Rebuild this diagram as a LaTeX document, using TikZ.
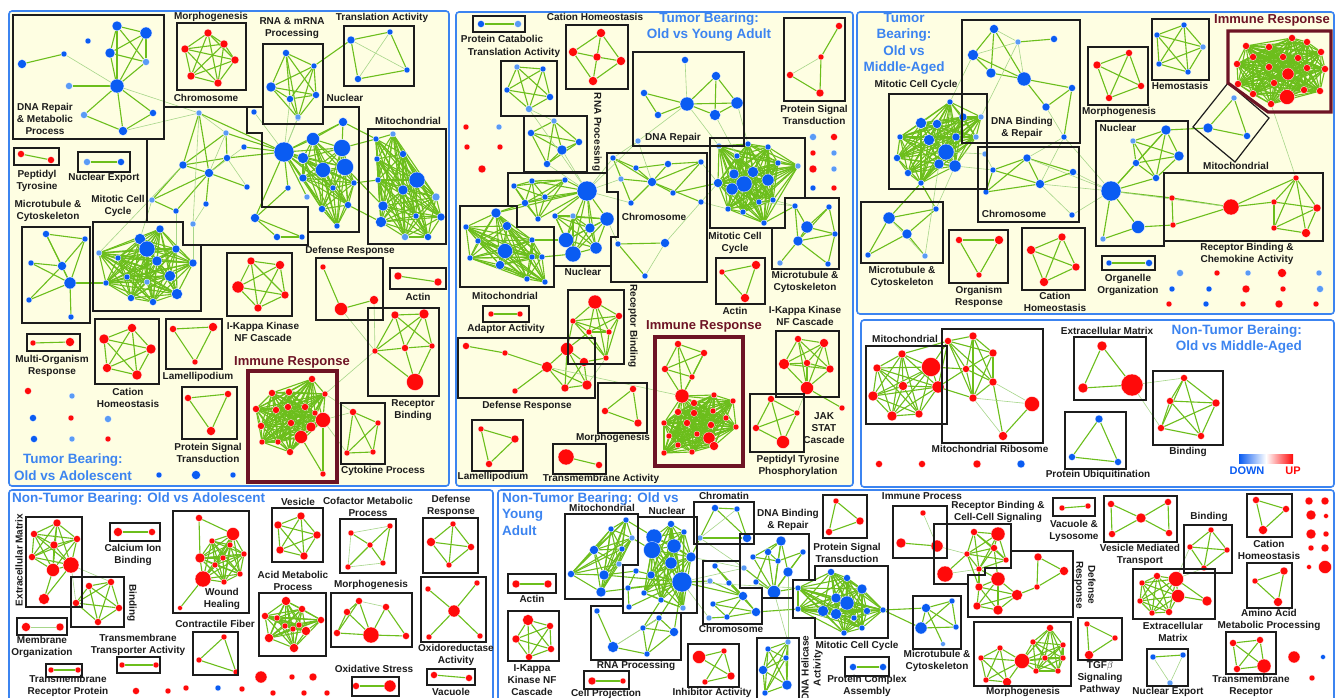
\documentclass[tikz,border=0pt]{standalone}
\usepackage{fontspec}
\setmainfont{Liberation Sans}
\pgfdeclarelayer{bg}\pgfdeclarelayer{edges}\pgfsetlayers{bg,edges,main}
\definecolor{R}{HTML}{FF0A0A}
\definecolor{B}{HTML}{0A5CF2}
\definecolor{L}{HTML}{5A9BF5}
\definecolor{G}{HTML}{6CBE1C}
\definecolor{GL}{HTML}{A7D68A}
\definecolor{CR}{HTML}{FEFEE2}
\definecolor{PB}{HTML}{3C84F0}
\definecolor{MR}{HTML}{6E1425}
\definecolor{TX}{HTML}{1C1C1C}
\tikzset{
 nd/.style={circle,inner sep=0pt,draw=white,line width=0.3pt},
 ed/.style={draw=G,line width=1.1pt},
 edl/.style={draw=GL,line width=0.6pt},
 bx/.style={draw=TX,line width=1.2pt},
 ibx/.style={draw=MR,line width=3.2pt},
 panel/.style={draw=PB,line width=1.6pt,rounded corners=3pt},
 lb/.style={font=\bfseries\fontsize{10}{12}\selectfont,align=center,text=TX,inner sep=0pt},
 ttl/.style={font=\bfseries\fontsize{13.5}{16.5}\selectfont,align=center,text=PB,inner sep=0pt},
 iml/.style={font=\bfseries\fontsize{13}{15}\selectfont,text=MR,inner sep=0pt}
}
\newcommand\nodes[2]{\foreach \px/\py/\ps/\pc [count=\k] in {#2}{\node[nd,fill=\pc,minimum size=\ps pt] (#1-\k) at (\px,\py) {};}}
\newcommand\cliq[2]{\begin{pgfonlayer}{edges}\foreach \ii in {#2}{\foreach \jj in {#2}{\ifnum\jj>\ii\relax\draw[ed] (#1-\ii)--(#1-\jj);\fi}}\end{pgfonlayer}}
\newcommand\links[2]{\begin{pgfonlayer}{edges}\foreach \aa/\bb in {#2}{\draw[ed] (#1-\aa)--(#1-\bb);}\end{pgfonlayer}}
\newcommand\lite[2]{\begin{pgfonlayer}{edges}\foreach \aa/\bb in {#2}{\draw[edl] (#1-\aa)--(#1-\bb);}\end{pgfonlayer}}
\newcommand\xl[1]{\begin{pgfonlayer}{edges}\foreach \aa/\bb in {#1}{\draw[ed] (\aa)--(\bb);}\end{pgfonlayer}}
\newcommand\tl[1]{\begin{pgfonlayer}{edges}\foreach \aa/\bb in {#1}{\draw[edl] (\aa)--(\bb);}\end{pgfonlayer}}
\begin{document}
\begin{tikzpicture}[x=1pt,y=-1pt]
\useasboundingbox (0,0) rectangle (1338,698);
\begin{pgfonlayer}{bg}
\fill[white] (0,0) rectangle (1338,698);
\draw[panel,fill=CR] (9,11) rectangle (449,486);
\draw[panel,fill=CR] (456,12) rectangle (853,486);
\draw[panel,fill=CR] (857,12) rectangle (1334,314);
\draw[panel,fill=white] (861,320) rectangle (1334,487);
\draw[panel,fill=white] (9,490) rectangle (493,706);
\draw[panel,fill=white] (498,490) rectangle (1334,706);
\end{pgfonlayer}
% ================= PANEL A =================
\nodes{ad}{117/26/10/B,146/33/12/B,110/53/10/B,146/62/7/L,88/41/6/B,64/54/6/B,22/64/9/B,117/86/14/B,69/86/7/L,84/115/7/L,153/113/7/B,123/131/9/B}
\links{ad}{1/2,1/3,1/4,2/3,2/4,3/8,1/8,2/8,4/8,3/4,6/7,9/8,10/8,11/8,12/8,10/12,12/11}
\lite{ad}{6/8}
\nodes{am}{208/33/8/R,224/44/8/R,185/49/8/R,235/60/8/R,191/76/8/R,218/83/8/R}\cliq{am}{1,...,6}
\nodes{ar}{286/53/7/B,314/66/6/B,271/87/10/B,290/99/7/B,316/95/7/B,298/118/6/L}\cliq{ar}{1,...,6}
\nodes{at}{351/40/8/B,390/32/6/B,407/70/6/B,358/79/7/B}\links{at}{1/2,2/3,3/4,4/1}\lite{at}{1/3,2/4}
\xl{ar-2/at-1}
\nodes{ap}{21/154/7/R,51/160/7/R}\links{ap}{1/2}
\nodes{ae}{87/162/7/L,121/162/7/B}\links{ae}{1/2}
\nodes{ac}{199/113/6/L,226/133/6/L,244/147/6/B,183/165/8/B,227/158/7/B,209/173/9/B,247/187/6/B,152/200/6/L,176/211/6/B,206/204/6/B,193/224/6/L,255/218/9/B,277/237/7/B,302/237/6/B}
\links{ac}{1/4,1/6,2/5,2/4,4/5,4/6,5/6,6/7,4/8,8/6,9/6,9/8,10/6,12/13,12/14,13/14}
\lite{ac}{1/2,2/6,3/6,10/11,5/7}
\nodes{an}{284/152/20/B,313/139/13/B,342/148/17/B,345/167/17/B,323/170/15/B,303/158/11/B,303/178/8/B,288/188/6/B,307/197/6/L,343/122/9/B,254/112/6/B,298/117/6/L,333/188/6/B,354/183/6/B,322/209/7/B,348/205/7/B,337/226/6/B}
\cliq{an}{1,2,3,4,5,6,7,13,14,15,16,17}\links{an}{1/10,1/8,1/9,10/3,2/10}\lite{an}{1/11,1/12}
\nodes{ao}{376/139/6/B,393/134/6/L,403/154/7/B,377/159/6/B,417/180/16/B,378/180/6/B,403/190/10/B,436/197/8/L,383/206/10/B,416/216/6/B,441/217/8/B,381/222/11/B,405/237/7/L,428/237/7/B}
\cliq{ao}{1,...,14}
\xl{an-3/ao-1,an-10/ao-1,an-4/ao-9,an-16/ao-12,an-14/ao-6}
\nodes{ay}{160/229/8/B,140/239/11/B,147/249/16/B,176/249/8/B,157/261/10/B,99/253/6/L,118/258/6/B,193/263/8/B,127/277/6/B,170/276/11/B,147/282/6/L,106/283/6/B,177/294/11/B,131/298/7/B,153/302/7/B}
\cliq{ay}{1,...,15}
\nodes{au}{46/234/7/B,85/239/6/B,31/263/6/B,62/266/9/B,70/283/12/B,29/300/6/B,71/317/6/B}
\links{au}{1/2,1/4,2/4,3/4,3/5,4/5,2/5,5/6,5/7,1/5,4/6}
\xl{au-5/ay-12,ac-1/an-1,ac-2/an-1,ac-3/an-1,ac-5/an-1,ac-12/an-1,ac-12/an-8}
\tl{ad-8/ac-1,ad-12/ac-1,ac-1/ac-11,ac-8/ay-2,ac-9/ay-4,ac-11/ay-8,ar-4/an-1,ar-6/an-1,ac-4/ay-6}
\nodes{ai}{312/379/7/R,272/393/7/R,289/392/7/R,325/394/6/R,256/409/7/R,276/410/7/R,288/407/7/R,305/407/7/R,315/413/6/R,323/420/15/R,261/426/7/R,291/423/7/R,311/427/10/R,301/437/13/R,262/442/6/R,278/442/6/R,290/452/7/R,323/474/6/R}
\cliq{ai}{1,...,17}\links{ai}{18/10,18/14}
\nodes{ak}{353/412/7/R,378/423/6/R,347/453/6/R,373/452/6/R}\cliq{ak}{1,...,4}
\tl{ai-10/ak-1,ai-4/ak-1,ai-10/ak-3}
\nodes{af}{323/267/6/R,341/309/13/R,374/300/9/R}\links{af}{1/2,2/3}
\nodes{aa}{398/276/8/R,438/282/8/R}\links{aa}{1/2}
\nodes{ag}{251/261/8/R,280/265/9/R,238/287/12/R,285/295/8/R,258/308/8/R}\cliq{ag}{1,...,5}
\nodes{ab}{395/315/8/R,424/314/10/R,375/351/6/R,405/348/7/R,432/346/6/R,415/382/17/R}
\links{ab}{1/2,1/3,1/4,2/3,2/4,2/5,3/4,4/5,3/6,5/6,4/6,1/5}
\tl{af-2/ab-3,af-3/ab-3,ab-3/ai-4}
\nodes{aw}{33/343/6/R,70/342/9/R}\links{aw}{1/2}
\nodes{ah}{132/328/9/R,104/339/10/R,151/349/10/R,107/368/9/R,137/375/10/R}\cliq{ah}{1,...,5}
\nodes{al}{173/329/7/R,213/327/9/R,195/362/6/R}\links{al}{1/2,2/3,3/1}
\nodes{as}{188/398/7/R,228/394/7/R,211/431/9/R}\links{as}{1/2,2/3,3/1}
\nodes{ax}{28/391/7/R,72/396/6/L,33/418/7/B,71/418/6/R,108/419/7/L,34/439/7/B,72/439/6/L,108/439/6/R,159/475/6/B,196/475/9/B,233/475/6/B}
% boxes A
\draw[bx] (13,15) rectangle (164,139);
\draw[bx] (177,23) rectangle (246,90);
\draw[bx] (263,44) rectangle (323,124);
\draw[bx] (344,26) rectangle (414,86);
\draw[bx] (14,148) rectangle (59,165);
\draw[bx] (78,152) rectangle (130,172);
\draw[bx] (164,107)--(247,107)--(247,133)--(262,133)--(262,207)--(308,207)--(308,245)--(183,245)--(183,222)--(147,222)--(147,139);
\draw[bx] (323,107)--(359,107)--(359,232)--(308,232);
\draw[bx] (247,107)--(263,107);
\draw[bx] (368,129) rectangle (446,244);
\draw[bx] (93,222)--(183,222)--(183,245)--(201,245)--(201,311)--(93,311)--cycle;
\draw[bx] (22,227) rectangle (90,323);
\draw[bx] (316,258) rectangle (383,320);
\draw[bx] (390,268) rectangle (446,289);
\draw[bx] (227,253) rectangle (292,316);
\draw[bx] (27,334) rectangle (80,351);
\draw[bx] (95,319) rectangle (159,384);
\draw[bx] (166,319) rectangle (222,369);
\draw[bx] (182,387) rectangle (237,439);
\draw[bx] (341,403) rectangle (385,464);
\draw[bx] (368,308) rectangle (439,396);
\draw[ibx] (248,371) rectangle (337,482);
% labels A
\node[lb] (ta1) at (211,17) {Morphogenesis};
\node[lb] (ta2) at (292,28.5) {RNA \& mRNA\\Processing};
\node[lb] (ta3) at (382,18) {Translation Activity};
\node[lb] (ta4) at (45,119) {DNA Repair\\\& Metabolic\\Process};
\node[lb] (ta5) at (206,98) {Chromosome};
\node[lb] (ta6) at (345,98) {Nuclear};
\node[lb] (ta7) at (408,121) {Mitochondrial};
\node[lb] (ta8) at (37,181) {Peptidyl\\Tyrosine};
\node[lb] (ta9) at (104,178) {Nuclear Export};
\node[lb] (ta10) at (48,211) {Microtubule \&\\Cytoskeleton};
\node[lb] (ta11) at (118,206) {Mitotic Cell\\Cycle};
\node[lb] (ta12) at (350,251) {Defense Response};
\node[lb] (ta13) at (418,297) {Actin};
\node[lb] (ta14) at (263,332) {I-Kappa Kinase\\NF Cascade};
\node[lb] (ta15) at (52,366) {Multi-Organism\\Response};
\node[lb] (ta16) at (128,398) {Cation\\Homeostasis};
\node[lb] (ta17) at (198,377) {Lamellipodium};
\node[lb] (ta18) at (208,453) {Protein Signal\\Transduction};
\node[iml] (ta19) at (292,362) {Immune Response};
\node[lb] (ta20) at (383,471) {Cytokine Process};
\node[lb] (ta21) at (413,410) {Receptor\\Binding};
\node[ttl] (ta22) at (73,467) {Tumor Bearing:\\Old vs Adolescent};
% ================= PANEL B =================
\nodes{bp}{481/24/7/B,518/24/7/L}\links{bp}{1/2}
\nodes{bh}{601/33/9/R,573/52/9/R,597/57/8/R,621/61/9/R,593/81/9/R}\links{bh}{1/2,1/3,1/4,2/3,3/4,2/5,3/5,4/5}
\nodes{bq}{517/67/6/L,543/69/6/B,507/90/6/B,550/97/7/B,529/109/7/L}\cliq{bq}{1,...,5}
\nodes{br}{554/121/6/L,531/133/7/B,579/142/7/B,562/150/10/B,547/164/7/B}\cliq{br}{1,...,5}
\tl{bq-5/br-1}
\nodes{bd}{685/60/7/B,644/93/7/B,716/76/9/B,687/104/14/B,737/103/12/B,715/115/11/B,658/115/7/B,638/141/6/L}
\links{bd}{2/4,2/7,4/7,3/4,3/5,3/6,4/5,4/6,5/6}\lite{bd}{1/4,4/8}
\nodes{bs}{839/26/7/R,821/57/6/R,790/75/7/R,820/93/8/R}\links{bs}{1/2,3/4,2/4}\lite{bs}{2/3}
\nodes{bx}{466/127/6/R,499/127/6/L,467/147/6/R,500/147/6/R,482/169/8/R,813/137/7/L,834/137/7/R,813/153/6/R,834/153/6/L,813/169/8/R,834/169/6/L,813/188/6/B,834/188/6/R}
\nodes{bn}{587/191/20/B,607/219/14/B,590/228/10/B,596/248/12/B,566/240/15/B,573/254/16/B,555/216/6/B,573/216/6/L,545/197/6/B,565/180/6/B,532/181/6/B,514/186/6/B,525/203/7/B,538/219/6/B}
\cliq{bn}{2,...,8}\cliq{bn}{9,...,14}\links{bn}{1/2,1/3,1/4,1/5,1/6,1/7,1/9,1/10,1/11,1/13,1/14}
\nodes{bo}{496/213/10/B,466/227/6/B,507/226/9/B,478/241/6/B,505/251/15/B,470/258/6/B,500/265/9/B,527/279/6/B,545/282/6/B,532/240/6/B,532/257/6/B,542/257/6/B}
\cliq{bo}{1,...,12}
\xl{bn-1/bo-1,bn-5/bo-10,bn-6/bo-12,bn-13/bo-1}
\nodes{bc}{613/158/6/B,636/168/6/B,668/164/7/B,701/162/6/B,652/182/9/B,621/179/6/L,673/193/6/B,631/203/6/B,701/202/6/B,618/244/6/B,665/243/9/B,645/276/6/B}
\links{bc}{1/2,1/5,2/5,3/5,3/4,4/5,5/7,5/8,2/3,5/9,4/7,8/1,10/11,10/12,6/5}\lite{bc}{11/12,9/11}
\tl{bn-1/bc-6,bn-1/bc-1,bn-1/bc-8,bc-1/bd-8,bd-8/bc-5,br-4/bn-1,br-5/bn-1,bq-5/bn-1,bn-2/bc-10,bn-1/bd-8}
\nodes{by}{719/146/6/L,748/144/6/B,768/147/6/B,737/156/6/B,778/163/6/B,798/166/6/L,734/174/10/B,753/172/11/B,744/184/16/B,768/180/12/B,718/183/9/B,732/189/12/B,759/202/6/B,773/200/6/B,728/209/6/B,743/212/6/B,764/223/6/B}
\cliq{by}{1,...,17}
\nodes{bu}{795/206/6/B,829/207/6/B,807/227/12/B,835/234/6/B,798/241/10/B,780/263/6/L,828/264/6/B}
\links{bu}{1/3,1/5,2/3,2/4,3/4,3/5,4/5,5/6,5/7,4/7,2/5}
\tl{bd-4/by-1,bd-5/by-2,bc-4/by-11,bc-9/by-11,by-13/bu-1,by-14/bu-1,bc-9/by-15,bd-6/by-4}
\xl{by-17/bu-1,bc-7/by-11}
\nodes{ba}{722/272/6/R,756/265/9/R,745/298/9/R}\links{ba}{1/2,2/3,3/1}
\nodes{bg}{798/339/7/R,824/343/9/R,784/364/11/R,807/363/7/R,830/369/8/R,807/388/13/R}\cliq{bg}{1,...,6}
\nodes{bj}{842/408/6/R}
\xl{bg-6/bj-1}
\nodes{bt}{771/399/7/R,797/413/6/R,756/428/7/R,783/442/13/R}\cliq{bt}{1,...,4}
\tl{bt-2/bg-6}
\nodes{bi}{678/344/7/R,704/353/7/R,665/369/7/R,692/377/6/R,682/396/14/R,714/395/6/R,733/401/6/R,694/403/7/R,678/412/7/R,694/413/7/R,713/411/6/R,726/418/6/R,664/423/6/R,687/423/7/R,711/425/7/R,736/427/6/R,669/436/6/R,697/434/6/R,709/438/12/R,678/445/6/R,714/446/9/R,664/453/6/R,692/452/6/R}
\cliq{bi}{1,...,5}\cliq{bi}{5,...,23}
\nodes{bb}{595/302/14/R,573/321/6/R,619/316/7/R,589/332/6/R,609/332/6/R,606/358/6/R}\cliq{bb}{1,...,6}
\nodes{bf}{466/346/7/R,505/353/6/R,547/367/11/R,515/391/6/R,567/349/13/R,584/362/9/R,565/388/8/R,587/385/10/R}
\links{bf}{1/2,2/3,3/4,3/5,3/7,5/6,5/7,5/8,6/8,7/8,6/7,3/8}
\xl{bb-2/bf-5,bb-6/bf-6,bb-4/bf-5}
\tl{bf-3/bi-5,bb-6/bf-8}
\nodes{bw}{491/314/6/R,520/314/6/R}\links{bw}{1/2}
\nodes{bm}{633/389/7/R,605/411/7/R,638/423/8/R}\links{bm}{1/2,2/3,3/1}
\nodes{bl}{481/429/6/R,515/439/8/R,489/464/7/R}\links{bl}{1/2,2/3,3/1}
\nodes{bk}{566/457/16/R,599/465/7/R}\links{bk}{1/2}
% boxes B
\draw[bx] (473,16) rectangle (525,32);
\draw[bx] (566,25) rectangle (628,89);
\draw[bx] (501,61) rectangle (557,116);
\draw[bx] (524,116) rectangle (587,172);
\draw[bx] (633,52) rectangle (744,146);
\draw[bx] (784,18) rectangle (845,101);
\draw[bx] (508,206)--(508,173)--(607,173)--(607,192)--(618,192)--(618,237)--(611,237)--(611,266)--(555,266);
\draw[bx] (460,206)--(517,206)--(517,227)--(554,227)--(554,287)--(460,287)--cycle;
\draw[bx] (607,173)--(607,153)--(707,153)--(707,282)--(611,282)--(611,266);
\draw[bx] (710,138)--(805,138)--(805,198)--(785,198)--(785,228)--(710,228)--cycle;
\draw[bx] (785,198)--(839,198)--(839,269)--(772,269)--(772,228);
\draw[bx] (716,258) rectangle (765,304);
\draw[bx] (776,331) rectangle (839,397);
\draw[bx] (750,394) rectangle (804,452);
\draw[bx] (568,290) rectangle (624,364);
\draw[bx] (458,338) rectangle (595,398);
\draw[bx] (483,306) rectangle (529,322);
\draw[bx] (598,383) rectangle (647,433);
\draw[bx] (472,420) rectangle (523,471);
\draw[bx] (553,444) rectangle (606,474);
\draw[ibx] (655,337) rectangle (743,466);
% labels B
\node[lb] (tb1) at (502,39) {Protein Catabolic};
\node[lb] (tb2) at (514,53) {Translation Activity};
\node[lb] (tb3) at (595,17) {Cation Homeostasis};
\node[ttl] (tb4) at (709,27) {Tumor Bearing:\\Old vs Young Adult};
\node[lb,rotate=-90] (tb5) at (597,132) {RNA Processing};
\node[lb] (tb6) at (673,138) {DNA Repair};
\node[lb] (tb7) at (814,115) {Protein Signal\\Transduction};
\node[lb] (tb8) at (654,217) {Chromosome};
\node[lb] (tb9) at (505,296) {Mitochondrial};
\node[lb] (tb10) at (583,272) {Nuclear};
\node[lb] (tb11) at (735,243) {Mitotic Cell\\Cycle};
\node[lb] (tb12) at (805,282) {Microtubule \&\\Cytoskeleton};
\node[lb] (tb13) at (735,311) {Actin};
\node[lb] (tb14) at (805,316) {I-Kappa Kinase\\NF Cascade};
\node[lb] (tb15) at (506,329) {Adaptor Activity};
\node[lb,rotate=-90] (tb16) at (633,326) {Receptor Binding};
\node[iml] (tb17) at (704,326) {Immune Response};
\node[lb] (tb18) at (824,428) {JAK\\STAT\\Cascade};
\node[lb] (tb19) at (527,406) {Defense Response};
\node[lb] (tb20) at (613,438) {Morphogenesis};
\node[lb] (tb21) at (798,466) {Peptidyl Tyrosine\\Phosphorylation};
\node[lb] (tb22) at (493,477) {Lamellipodium};
\node[lb] (tb23) at (601,479) {Transmembrane Activity};
% ================= PANEL C =================
\nodes{cd}{994/29/9/B,1018/42/6/L,1054/39/7/B,973/55/11/B,991/73/10/B,1024/79/14/B,1072/88/7/B,1046/107/8/B,1064/137/6/B}
\links{cd}{1/4,1/5,1/6,2/3,4/5,4/6,5/6,6/7,6/8,7/8,7/9}\lite{cd}{1/2,2/4,2/6,8/9}
\nodes{cy}{950/102/6/B,921/123/11/B,937/124/9/B,963/117/8/B,981/117/6/L,900/137/6/B,929/140/11/B,956/137/8/B,976/137/6/L,946/152/16/B,897/158/7/B,939/164/10/B,955/166/12/B,908/173/7/B,921/183/6/B}
\cliq{cy}{1,...,15}
\nodes{cc}{985/154/6/L,993/170/6/B,1027/158/8/B,1073/172/7/B,986/192/6/B,1040/184/9/B,1072/215/6/B}
\links{cc}{2/3,3/6,2/6,5/6,2/5,3/4,6/4,3/5}\lite{cc}{1/2,6/7}
\nodes{cu}{889/218/12/B,907/234/10/B,936/209/6/B,868/255/6/B,925/256/6/L}
\links{cu}{1/2,1/3,2/3,1/4,2/4,2/5}\lite{cu}{1/5}
\xl{cu-1/cy-15,cu-3/cy-15}
\tl{cy-1/cd-4,cy-5/cd-2,cy-10/cc-1,cy-13/cc-2,cd-9/cc-3,cd-9/cc-6,cy-13/cu-3,cy-12/cu-5}
\nodes{co}{959/240/7/R,999/240/9/R,979/275/6/R}\links{co}{1/2,2/3,3/1}
\nodes{ch}{1062/237/8/R,1031/250/9/R,1076/267/8/R,1044/282/9/R}\cliq{ch}{1,...,4}
\nodes{cm}{1129/53/7/R,1097/65/8/R,1141/86/7/R,1109/98/7/R}\cliq{cm}{1,...,4}
\nodes{ce}{1184/25/6/B,1157/35/6/B,1203/47/6/L,1159/64/6/B,1188/72/6/B}\cliq{ce}{1,...,5}
\nodes{ci}{1246/46/7/R,1269/47/7/R,1292/38/7/R,1307/42/7/R,1321/52/7/R,1237/64/7/R,1253/57/7/R,1283/57/7/R,1298/58/7/R,1269/67/7/R,1288/74/12/R,1307/68/7/R,1325/69/7/R,1238/84/7/R,1253/94/7/R,1274/83/7/R,1287/97/15/R,1304/90/7/R,1320/91/7/R,1271/104/7/R}
\cliq{ci}{1,...,20}
\nodes{cq}{1234/98/6/L,1208/128/10/B,1247/136/7/B}\links{cq}{1/2,2/3,3/1}
\nodes{cn}{1133/141/6/L,1166/130/10/B,1179/156/10/B,1136/163/7/B,1156/178/7/B,1111/191/20/B,1138/227/13/B,1103/239/6/L}
\links{cn}{1/2,1/3,1/4,1/5,2/3,2/4,2/5,3/4,3/5,4/5,4/6,5/6,6/7,6/8,7/8,2/6}
\nodes{cr}{1172/198/6/R,1173/225/6/R,1231/207/16/R,1274/202/6/R,1296/178/6/R,1317/208/8/R,1274/228/6/R,1306/233/9/R}
\links{cr}{1/2,1/3,2/3,3/4,3/5,4/5,4/6,4/7,5/6,5/7,5/8,6/8,7/8,6/7}
\xl{cn-2/cq-2,cn-6/cr-1,cn-7/cr-2}
\tl{cn-6/cr-3,ci-20/cr-5,cc-6/cn-6,cc-3/cn-6,cc-4/cn-6,cc-7/cn-6,cd-9/cn-6}
\nodes{cg}{1109/263/6/B,1149/263/7/B}\links{cg}{1/2}
\nodes{cx}{1180/273/7/L,1217/273/6/R,1248/273/6/L,1282/273/9/R,1319/273/6/L,1172/289/6/B,1209/289/6/B,1246/289/8/R,1283/289/6/R,1320/289/7/L,1169/304/6/R,1206/304/6/B,1243/304/6/R,1279/304/8/R,1316/304/6/R}
% boxes C
\draw[bx] (889,94) rectangle (987,189);
\draw[bx] (962,20) rectangle (1080,143);
\draw[bx] (978,147) rectangle (1079,222);
\draw[bx] (861,202) rectangle (943,263);
\draw[bx] (949,230) rectangle (1008,283);
\draw[bx] (1022,228) rectangle (1085,290);
\draw[bx] (1088,47) rectangle (1148,105);
\draw[bx] (1152,19) rectangle (1209,80);
\draw[bx] (1193,127)--(1228,83)--(1269,118)--(1235,162)--cycle;
\draw[bx] (1096,121)--(1188,121)--(1188,173)--(1164,173)--(1164,246)--(1096,246)--cycle;
\draw[bx] (1164,173) rectangle (1323,241);
\draw[bx] (1102,256) rectangle (1155,270);
\draw[ibx] (1228,31)--(1331,31)--(1331,112)--(1268,112)--(1228,83)--cycle;
% labels C
\node[ttl] (tc1) at (904,44) {Tumor\\Bearing:\\Old vs\\Middle-Aged};
\node[lb] (tc2) at (916,85) {Mitotic Cell Cycle};
\node[lb] (tc3) at (1022,127.5) {DNA Binding\\\& Repair};
\node[lb] (tc4) at (1014,214) {Chromosome};
\node[lb] (tc5) at (902,277) {Microtubule \&\\Cytoskeleton};
\node[lb] (tc6) at (979,297) {Organism\\Response};
\node[lb] (tc7) at (1055,302) {Cation\\Homeostasis};
\node[lb] (tc8) at (1119,112) {Morphogenesis};
\node[lb] (tc9) at (1180,86) {Hemostasis};
\node[iml] (tc10) at (1272,20) {Immune Response};
\node[lb] (tc11) at (1236,166) {Mitochondrial};
\node[lb] (tc12) at (1118,128) {Nuclear};
\node[lb] (tc13) at (1247,254) {Receptor Binding \&\\Chemokine Activity};
\node[lb] (tc14) at (1128,284.5) {Organelle\\Organization};
% ================= PANEL D =================
\nodes{dm}{902/354/8/R,877/368/8/R,931/367/19/R,903/386/9/R,938/387/12/R,873/396/10/R,892/416/10/R,919/414/8/R}\cliq{dm}{1,...,8}
\nodes{dr}{948/341/7/R,973/336/8/R,993/353/8/R,966/369/7/R,993/382/8/R,973/398/8/R,1032/404/15/R,1003/436/9/R}
\cliq{dr}{1,...,6}\links{dr}{7/8,5/8}\lite{dr}{6/7,5/7,6/8}
\xl{dm-3/dr-1,dm-5/dr-1,dm-3/dr-4,dm-5/dr-4,dm-5/dr-6,dm-1/dr-1}
\nodes{de}{1102/346/10/R,1083/388/10/R,1132/385/22/R}\links{de}{1/2,2/3,3/1}
\nodes{dn}{1184/378/7/R,1170/401/7/R,1216/403/8/R,1161/428/7/R,1201/436/7/R}\cliq{dn}{1,...,5}
\tl{de-3/dn-1,de-3/dn-4}
\nodes{du}{1099/419/8/B,1072/457/7/B,1118/462/7/B}\links{du}{1/2,2/3,3/1}
\nodes{dx}{879/464/7/R,922/464/7/R,977/464/8/R,1021/464/8/B}
\draw[bx] (866,346) rectangle (947,424);
\draw[bx] (942,329) rectangle (1043,443);
\draw[bx] (1074,337) rectangle (1146,400);
\draw[bx] (1065,412) rectangle (1126,469);
\draw[bx] (1153,371) rectangle (1223,445);
\shade[left color=B,right color=R,middle color=white] (1239,454) rectangle (1293,463);
\node[ttl,align=right,anchor=east] (td1) at (1302,339) {Non-Tumor Beraing:\\Old vs Middle-Aged};
\node[lb] (td2) at (905,339) {Mitochondrial};
\node[lb] (td3) at (990,449) {Mitochondrial Ribosome};
\node[lb] (td4) at (1107,331) {Extracellular Matrix};
\node[lb] (td5) at (1098,475) {Protein Ubiquitination};
\node[lb] (td6) at (1188,452) {Binding};
\node[lb,font=\bfseries\fontsize{11}{13}\selectfont,text=B] (td7) at (1247,471) {DOWN};
\node[lb,font=\bfseries\fontsize{11}{13}\selectfont,text=R] (td8) at (1293,471) {UP};
% ================= PANEL E =================
\nodes{ea}{57/523/8/R,34/534/7/R,77/539/7/R,54/545/8/R,32/557/7/R,53/570/13/R,71/565/16/R,44/599/11/R}\cliq{ea}{1,...,7}\links{ea}{8/6,8/7}
\nodes{eb}{89/586/7/R,111/582/7/R,76/603/7/R,119/608/7/R,98/622/7/R}\cliq{eb}{1,...,5}
\tl{ea-7/eb-2,ea-7/eb-3}
\nodes{ec}{118/532/9/R,152/532/7/R}\links{ec}{1/2}
\nodes{ew}{199/518/7/R,233/534/13/R,212/541/6/R,230/545/6/R,200/558/10/R,223/558/6/R,244/554/6/R,215/565/6/R,240/574/6/R,203/579/16/R,224/582/6/R,180/608/5/R}
\links{ew}{1/2,1/5,10/12}\cliq{ew}{2,...,11}
\nodes{ev}{301/516/8/R,278/525/8/R,317/535/8/R,280/550/8/R,304/556/8/R}\cliq{ev}{1,...,5}
\nodes{ef}{351/533/6/R,390/526/6/R,370/545/6/R,348/567/6/R,383/563/6/R}\links{ef}{1/3,2/3,3/4,3/5,2/5}\lite{ef}{4/5,1/2,1/4}
\nodes{ed}{453/524/6/R,431/542/9/R,471/547/7/R,449/565/6/R}\cliq{ed}{1,...,4}
\nodes{eq}{286/601/9/R,265/616/7/R,302/609/7/R,277/618/6/R,321/620/7/R,285/626/6/R,299/625/6/R,293/629/6/R,306/631/9/R,269/638/9/R,294/648/9/R}\cliq{eq}{1,...,11}
\nodes{eg}{359/601/7/R,347/612/7/R,386/607/7/R,337/633/7/R,371/635/16/R,406/636/7/R}\links{eg}{1/2,1/5,2/5,2/4,4/5,5/6,3/5,3/6,4/1}\lite{eg}{1/3}
\nodes{eo}{428/589/6/R,477/583/6/R,454/611/12/R,429/637/6/R,480/636/6/R}\links{eo}{1/3,2/3,3/4,3/5}
\nodes{et}{224/637/6/R,199/660/6/R,236/672/6/R}\links{et}{1/2,2/3,3/1}
\nodes{es}{356/686/7/R,390/686/12/R}\links{es}{1/2}
\nodes{eu}{434/675/7/R,469/678/7/R}\links{eu}{1/2}
\nodes{em}{26/627/9/R,60/627/8/R}\lite{em}{1/2}
\nodes{ep}{51/670/6/R,78/670/6/R}\links{ep}{1/2}
\nodes{en}{122/665/6/R,156/665/6/R}\links{en}{1/2}
\nodes{ex}{136/691/7/R,168/691/6/R,186/688/6/R,218/688/6/B,242/689/6/R,261/677/12/R,292/677/6/R,313/677/8/R,273/693/6/R,304/693/6/R,327/693/6/R}
\draw[bx] (26,517) rectangle (82,607);
\draw[bx] (71,577) rectangle (124,627);
\draw[bx] (110,523) rectangle (160,541);
\draw[bx] (17,618) rectangle (67,635);
\draw[bx] (46,664) rectangle (82,677);
\draw[bx] (117,657) rectangle (160,673);
\draw[bx] (173,511) rectangle (249,613);
\draw[bx] (272,508) rectangle (323,562);
\draw[bx] (340,519) rectangle (396,573);
\draw[bx] (423,518) rectangle (478,573);
\draw[bx] (259,593) rectangle (326,656);
\draw[bx] (331,593) rectangle (412,647);
\draw[bx] (421,577) rectangle (486,642);
\draw[bx] (193,632) rectangle (238,675);
\draw[bx] (352,677) rectangle (399,696);
\draw[bx] (427,669) rectangle (475,685);
\node[ttl,anchor=west] (te1) at (12,499) {Non-Tumor Bearing: Old vs Adolescent};
\node[lb,rotate=90] (te2) at (19,560) {Extracellular Matrix};
\node[lb,rotate=-90] (te3) at (132,603) {Binding};
\node[lb] (te4) at (133,554.5) {Calcium Ion\\Binding};
\node[lb] (te5) at (42,647) {Membrane\\Organization};
\node[lb] (te6) at (68,686) {Transmembrane\\Receptor Protein};
\node[lb] (te7) at (138,644.5) {Transmembrane\\Transporter Activity};
\node[lb] (te8) at (222,599) {Wound\\Healing};
\node[lb] (te9) at (298,502) {Vesicle};
\node[lb] (te10) at (368,506.5) {Cofactor Metabolic\\Process};
\node[lb] (te11) at (451,505.5) {Defense\\Response};
\node[lb] (te12) at (293,580.5) {Acid Metabolic\\Process};
\node[lb] (te13) at (371,585) {Morphogenesis};
\node[lb] (te14) at (456,654.5) {Oxidoreductase\\Activity};
\node[lb] (te15) at (215,624) {Contractile Fiber};
\node[lb] (te16) at (374,669) {Oxidative Stress};
\node[lb] (te17) at (451,692) {Vacuole};
% ================= PANEL F =================
\nodes{fo}{626/520/6/B,611/529/6/B,632/538/6/L,622/549/6/B,594/550/9/B,571/574/7/B,604/575/10/B,619/564/6/L,601/592/10/B}
\cliq{fo}{1,...,9}
\nodes{fn}{671/524/7/B,654/537/16/B,684/532/6/B,652/550/17/B,674/546/14/B,691/557/10/B,671/563/12/B,682/582/20/B,651/575/8/B,644/593/6/B,661/600/6/B,683/608/6/L,636/571/6/B,628/588/6/B,629/607/6/B}
\cliq{fn}{1,...,12}\links{fn}{8/13,8/14,8/15,13/14,14/15}
\xl{fn-8/fo-7,fn-8/fo-9,fn-2/fo-1,fn-4/fo-3,fn-13/fo-7}
\nodes{fr}{597/611/6/B,613/647/11/B,643/628/6/B,659/618/6/B,674/632/9/B,647/654/6/B}
\links{fr}{1/2,2/6,3/4,3/5,4/5,5/6,3/6,4/6}\lite{fr}{2/3,2/4}
\xl{fn-8/fr-5,fn-8/fr-4,fn-11/fr-3}
\nodes{fc}{715/508/7/B,737/509/6/B,700/538/6/L,747/538/9/B}\links{fc}{1/2,1/3,1/4,2/4,3/4}\lite{fc}{2/3}
\nodes{fb}{781/541/10/B,768/552/7/B,753/557/6/B,803/552/6/B,778/561/6/B,744/568/6/L,788/572/10/B,756/582/6/B,774/592/13/B}
\links{fb}{1/2,1/3,1/5,1/7,1/9,2/5,2/9,3/5,3/9,4/5,4/7,4/9,5/9,6/9,7/9,8/9,2/8}
\nodes{fk}{715/566/6/B,710/581/6/L,729/583/6/B,743/596/9/B,713/604/6/B,756/612/9/B,727/617/6/B,709/618/6/L}
\links{fk}{1/3,1/4,2/4,3/4,4/5,4/6,4/7,5/6,6/7,3/6,5/7,7/8}
\xl{fn-8/fk-2,fn-8/fk-4,fn-6/fc-3}
\tl{fn-8/fb-6,fc-3/fb-6,fn-6/fb-6,fn-8/fk-8}
\nodes{fy}{831/572/7/B,847/578/7/B,798/588/6/B,862/589/10/B,836/598/10/B,847/603/14/B,823/611/11/B,836/614/11/B,798/609/6/B,867/611/7/B,883/610/6/B,854/618/6/B,844/633/6/B,862/628/6/B}
\cliq{fy}{1,...,14}
\xl{fb-9/fy-3,fk-6/fy-9}
\tl{fn-8/fy-3}
\nodes{fp}{836/501/6/R,860/521/8/R,829/532/7/R}\links{fp}{1/2,2/3,3/1}
\nodes{fa}{516/584/8/R,548/584/8/R}\links{fa}{1/2}
\nodes{fg}{528/620/11/R,550/626/7/R,516/639/8/R,551/649/7/R,529/657/7/R}\cliq{fg}{1,...,5}
\nodes{fj}{592/681/8/R,623/681/6/R}\links{fj}{1/2}
\nodes{fh}{699/657/13/R,724/651/6/R,731/676/8/R,705/682/6/R}\links{fh}{1/2,2/3,1/3,2/4,3/4}
\nodes{fd}{788/642/6/L,768/649/6/B,786/658/6/B,763/670/9/B,787/685/10/B,765/693/6/B}\cliq{fd}{1,...,6}
\tl{fd-1/fb-9,fd-1/fb-7}
\nodes{fq}{853/667/7/B,883/667/7/B}\links{fq}{1/2}
\nodes{fu}{926/608/9/B,952/601/6/B,921/628/12/B,956/627/6/B,943/644/5/L}\links{fu}{1/2,1/3,1/4,2/3,2/4,3/4,1/5}
\xl{fy-11/fu-3,fy-11/fu-1}
\nodes{fi}{923/513/6/R,901/543/10/R,937/546/12/R}\links{fi}{2/3}\lite{fi}{1/3}
\nodes{fs}{974/532/7/R,998/534/14/R,994/548/7/R,967/554/6/R,1006/560/6/R,979/569/6/R,945/574/16/R}\cliq{fs}{1,...,6}\links{fs}{7/4}\lite{fs}{7/6}
\tl{fi-3/fs-4}
\nodes{ff}{998/579/14/R,979/587/8/R,1017/595/11/R,977/606/8/R,998/610/10/R,1037/587/6/R,1038/557/8/R,1064/571/9/R}
\cliq{ff}{1,...,5}\links{ff}{3/6,6/7,6/8,7/8}
\xl{fs-6/ff-1,fs-4/ff-2,fs-3/ff-1,fs-6/ff-2}
\nodes{fv}{1062/508/6/R,1088/506/6/R}\links{fv}{1/2}
\nodes{fw}{1111/504/7/R,1168/502/7/R,1141/518/10/R,1112/534/7/R,1169/533/7/R}\links{fw}{1/3,2/3,3/4,3/5,1/4,2/5}
\nodes{fl}{1211/530/6/R,1190/547/6/R,1227/550/6/R,1204/568/6/R}\cliq{fl}{1,...,4}
\nodes{fe}{1157/576/7/R,1176/579/15/R,1142/583/6/R,1178/596/13/R,1140/601/6/R,1207/601/10/R,1152/613/6/R,1169/612/7/R}
\cliq{fe}{1,2,3,4,5,7,8}\links{fe}{2/6,4/6}
\tl{fe-2/fl-4,fe-2/fl-2}
\nodes{ft}{1256/500/7/R,1286/509/7/R,1263/530/9/R}\links{ft}{1/2,2/3,3/1}
\nodes{fz}{1284/571/8/R,1255/581/6/R,1278/602/9/R}\links{fz}{1/2,2/3,3/1}
\nodes{fm}{1087/624/6/R,1115/638/6/R,1089/655/9/R}\links{fm}{1/2,2/3,3/1}
\nodes{fmo}{1000/648/6/R,981/658/6/R,1022/661/15/R,986/680/6/R,1007/682/9/R,1050/628/7/R,1033/642/6/R,1063/645/6/R,1045/658/6/R,1063/658/6/R,1036/671/6/R,1058/671/6/R}
\cliq{fmo}{1,...,5}\cliq{fmo}{3,6,7,8,9,10,11,12}
\nodes{fx}{1153/657/6/B,1183/655/6/B,1170/683/6/L}\links{fx}{1/2}\lite{fx}{1/3,2/3}
\nodes{ftr}{1233/643/7/R,1260/640/7/R,1237/669/7/R,1264/666/14/R}\cliq{ftr}{1,...,4}
\nodes{fdot}{1309/501/8/R,1325/501/8/R,1311/515/10/R,1326/516/5/R,1311/534/10/R,1326/534/6/R,1311/548/6/R,1325/548/8/R,1309/567/5/R,1325/567/13/R,1294/657/12/R,1323/657/5/B,1312/678/6/R}
% boxes F
\draw[bx] (565,514)--(638,514)--(638,565)--(623,565)--(623,599)--(565,599)--cycle;
\draw[bx] (638,517)--(697,517)--(697,613)--(623,613)--(623,599);
\draw[bx] (623,606)--(591,606)--(591,660)--(681,660)--(681,613);
\draw[bx] (694,502) rectangle (754,544);
\draw[bx] (740,534)--(809,534)--(809,580)--(793,580)--(793,598)--(762,598)--(762,588)--(740,588)--cycle;
\draw[bx] (703,561)--(740,561)--(740,588)--(762,588)--(762,624)--(703,624)--cycle;
\draw[bx] (793,580)--(815,580)--(815,566)--(888,566)--(888,638)--(815,638)--(815,618)--(793,618)--cycle;
\draw[bx] (823,495) rectangle (867,538);
\draw[bx] (508,574) rectangle (556,593);
\draw[bx] (508,611) rectangle (559,661);
\draw[bx] (584,671) rectangle (629,689);
\draw[bx] (688,644) rectangle (739,687);
\draw[bx] (757,638) rectangle (799,702);
\draw[bx] (845,657) rectangle (889,676);
\draw[bx] (913,596) rectangle (961,649);
\draw[bx] (893,506) rectangle (947,558);
\draw[bx] (934,524)--(1011,524)--(1011,568)--(985,568)--(985,575)--(968,575)--(968,584)--(934,584)--cycle;
\draw[bx] (968,584)--(968,617)--(1073,617)--(1073,551)--(1011,551);
\draw[bx] (1053,498) rectangle (1095,516);
\draw[bx] (1104,496) rectangle (1177,542);
\draw[bx] (1184,525) rectangle (1232,573);
\draw[bx] (1133,569) rectangle (1215,619);
\draw[bx] (1247,494) rectangle (1292,537);
\draw[bx] (1247,563) rectangle (1292,608);
\draw[bx] (1078,618) rectangle (1122,660);
\draw[bx] (974,622) rectangle (1071,686);
\draw[bx] (1147,649) rectangle (1188,686);
\draw[bx] (1226,632) rectangle (1276,674);
\node[ttl,anchor=west,align=left] (tf1) at (502,514) {Non-Tumor Bearing: Old vs\\Young\\Adult};
\node[lb] (tf2) at (602,508) {Mitochondrial};
\node[lb] (tf3) at (667,511) {Nuclear};
\node[lb] (tf4) at (724,496) {Chromatin};
\node[lb] (tf5) at (788,519.5) {DNA Binding\\\& Repair};
\node[lb] (tf6) at (847,553) {Protein Signal\\Transduction};
\node[lb] (tf7) at (731,629) {Chromosome};
\node[lb] (tf8) at (857,646) {Mitotic Cell Cycle};
\node[lb] (tf9) at (636,666) {RNA Processing};
\node[lb] (tf10) at (532,599) {Actin};
\node[lb] (tf11) at (532,680) {I-Kappa\\Kinase NF\\Cascade};
\node[lb] (tf12) at (606,694) {Cell Projection};
\node[lb] (tf13) at (712,693) {Inhibitor Activity};
\node[lb,rotate=90] (tf14) at (812,668) {DNA Helicase\\Activity};
\node[lb] (tf15) at (867,686) {Protein Complex\\Assembly};
\node[lb] (tf16) at (937,661) {Microtubule \&\\Cytoskeleton};
\node[lb] (tf17) at (922,496) {Immune Process};
\node[lb] (tf18) at (998,511.5) {Receptor Binding \&\\Cell-Cell Signaling};
\node[lb,rotate=-90] (tf19) at (1085,585) {Defense\\Response};
\node[lb] (tf20) at (1074,530.5) {Vacuole \&\\Lysosome};
\node[lb] (tf21) at (1140,554.5) {Vesicle Mediated\\Transport};
\node[lb] (tf22) at (1209,517) {Binding};
\node[lb] (tf23) at (1173,632) {Extracellular\\Matrix};
\node[lb] (tf24) at (1269,550) {Cation\\Homeostasis};
\node[lb] (tf25) at (1269,619.5) {Amino Acid\\Metabolic Processing};
\node[lb] (tf26) at (1100,678) {TGF$\beta$\\Signaling\\Pathway};
\node[lb] (tf27) at (1023,692) {Morphogenesis};
\node[lb] (tf28) at (1168,692) {Nuclear Export};
\node[lb] (tf29) at (1251,686) {Transmembrane\\Receptor};
\end{tikzpicture}
\end{document}
